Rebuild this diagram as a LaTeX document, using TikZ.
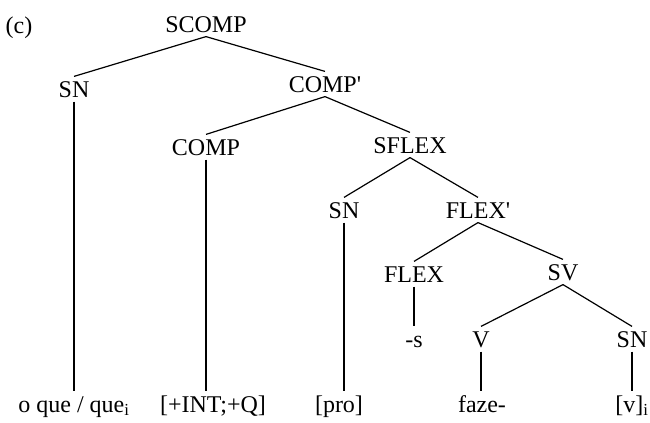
\documentclass[tikz,border=0pt]{standalone}
\usepackage{fontspec}
\setmainfont{Liberation Serif}
\usepackage{tikz}
\usetikzlibrary{positioning}

\begin{document}
\begin{tikzpicture}[x=0.75pt, y=-0.75pt, line width=0.9pt,
    every node/.style={font=\fontsize{18}{20}\selectfont, anchor=base},
    cat/.style={inner sep=3pt, text height=12pt, text depth=0pt},
    leaf/.style={inner sep=3pt, text height=12pt, text depth=4pt}]
\useasboundingbox (0,0) rectangle (650,422);

\node[inner sep=0pt] (lbl) at (19,33) {(c)};

% categorias
\node[cat] (scomp)   at (206,32)  {SCOMP};
\node[cat] (sna)     at (74,97)   {SN};
\node[cat] (compbar) at (325,92)  {COMP\textquotesingle};
\node[cat] (comp)    at (206,155) {COMP};
\node[cat] (sflex)   at (410,153) {SFLEX};
\node[cat] (snb)     at (344,218) {SN};
\node[cat] (flexbar) at (478,218) {FLEX\textquotesingle};
\node[cat] (flex)    at (414,282) {FLEX};
\node[cat] (sv)      at (563,280) {SV};
\node[cat] (suf)     at (414,347) {-s};
\node[cat] (v)       at (481,347) {V};
\node[cat] (snc)     at (632,347) {SN};

% terminais
\node[leaf] (oque)   at (74,412)  {o que / que\textsubscript{i}};
\node[leaf] (intq)   at (213,412) {[+INT;+Q]};
\node[leaf] (pro)    at (339,412) {[pro]};
\node[leaf] (faze)   at (482,412) {faze-};
\node[leaf] (vtrace) at (632,412) {[v]\textsubscript{i}};

\draw (scomp.south) -- (sna.north);
\draw (scomp.south) -- (compbar.north);
\draw (compbar.south) -- (comp.north);
\draw (compbar.south) -- (sflex.north);
\draw (sflex.south) -- (snb.north);
\draw (sflex.south) -- (flexbar.north);
\draw (flexbar.south) -- (flex.north);
\draw (flexbar.south) -- (sv.north);
\draw (sv.south) -- (v.north);
\draw (sv.south) -- (snc.north);
\draw (flex.south) -- (suf.north);

\draw (sna.south) -- (sna.south |- oque.north);
\draw (comp.south) -- (comp.south |- intq.north);
\draw (snb.south) -- (snb.south |- pro.north);
\draw (v.south) -- (v.south |- faze.north);
\draw (snc.south) -- (snc.south |- vtrace.north);
\end{tikzpicture}
\end{document}
